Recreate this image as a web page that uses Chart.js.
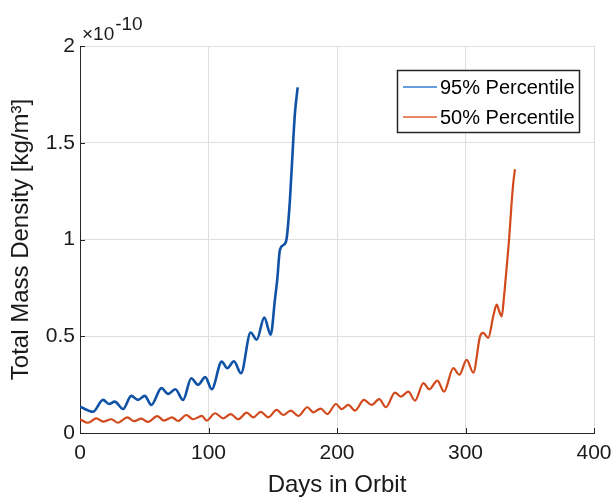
<!DOCTYPE html>
<html>
<head>
<meta charset="utf-8">
<script src="https://cdn.jsdelivr.net/npm/chart.js@4.4.1/dist/chart.umd.min.js"></script>
<style>
  html, body { margin: 0; padding: 0; background: #ffffff; }
  #wrap { width: 611px; height: 501px; }
</style>
</head>
<body>
<div id="wrap"><canvas id="c" width="611" height="501"></canvas></div>
<script>
// ---- Data (density values in units of 1e-10 kg/m^3) ----
const days95 = [0, 10.1, 17.9, 22.6, 27.0, 33.5, 39.9, 45.1, 50.4, 55.5, 63.4, 68.5, 74.2, 80.2, 86.6, 91.8, 97.5, 102.5, 110.3, 114.6, 119.8, 125.3, 132.8, 137.5, 143.4, 148.4, 151.8, 153.5, 155.6, 158.8, 160.9, 163.4, 166.0, 167.3, 169.4];
const density95 = [0.136, 0.110, 0.171, 0.150, 0.162, 0.124, 0.192, 0.171, 0.192, 0.145, 0.232, 0.202, 0.226, 0.171, 0.283, 0.249, 0.289, 0.226, 0.369, 0.335, 0.371, 0.309, 0.519, 0.482, 0.596, 0.508, 0.696, 0.793, 0.948, 0.974, 1.009, 1.207, 1.518, 1.656, 1.786];

const days50 = [0, 6.2, 12.7, 17.9, 24.4, 29.6, 36.8, 42.0, 47.7, 52.9, 60.2, 65.4, 71.6, 76.3, 82.7, 87.9, 94.9, 98.6, 105.1, 111.5, 117.3, 123.2, 129.7, 134.9, 140.6, 146.5, 153.1, 158.2, 164.0, 169.9, 176.9, 181.6, 187.3, 192.5, 199.2, 203.7, 208.8, 214.0, 221.0, 227.0, 232.9, 238.1, 245.1, 249.6, 255.5, 260.7, 267.2, 271.8, 278.1, 283.3, 290.5, 295.2, 300.9, 306.1, 311.3, 313.8, 317.7, 321.6, 324.3, 326.3, 328.2, 330.0, 332.1, 334.1, 335.9, 337.2, 338.5];
const density50 = [0.071, 0.053, 0.076, 0.059, 0.071, 0.053, 0.081, 0.061, 0.074, 0.057, 0.087, 0.064, 0.081, 0.062, 0.093, 0.071, 0.088, 0.064, 0.102, 0.076, 0.098, 0.071, 0.105, 0.081, 0.109, 0.081, 0.119, 0.093, 0.116, 0.088, 0.133, 0.107, 0.126, 0.098, 0.150, 0.123, 0.145, 0.116, 0.171, 0.145, 0.175, 0.133, 0.209, 0.188, 0.214, 0.167, 0.258, 0.226, 0.271, 0.214, 0.335, 0.301, 0.378, 0.312, 0.499, 0.517, 0.491, 0.603, 0.663, 0.628, 0.603, 0.706, 0.862, 1.017, 1.190, 1.294, 1.363];

const xTicks = [0, 100, 200, 300, 400];
const yTicks = [0, 0.5, 1, 1.5, 2];
const yTickLabels = ['0', '0.5', '1', '1.5', '2'];
const seriesLabels = ['95% Percentile', '50% Percentile'];
const xTitle = 'Days in Orbit';
const yTitle = 'Total Mass Density [kg/m\u00B3]';
const exponentBase = '\u00D710';
const exponentPower = '-10';

const FONT = '"Liberation Sans", Arial, Helvetica, sans-serif';
const lineColors = ['#0f52a6', '#d2491c'];
const legendColors = ['#2f7fd0', '#e2612f'];

function pts(xs, ys) { return xs.map((x, i) => ({ x: x, y: ys[i] })); }

const overlay = {
  id: 'overlay',
  afterDraw(chart) {
    const ctx = chart.ctx;
    const xs = chart.scales.x, ys = chart.scales.y;
    const a = chart.chartArea;
    ctx.save();
    // inward tick marks
    ctx.strokeStyle = '#262626';
    ctx.lineWidth = 1;
    ctx.beginPath();
    xTicks.forEach(v => {
      const px = Math.round(xs.getPixelForValue(v)) + 0.5;
      ctx.moveTo(px, a.bottom); ctx.lineTo(px, a.bottom - 5);
    });
    yTicks.forEach(v => {
      const py = Math.round(ys.getPixelForValue(v)) + 0.5;
      ctx.moveTo(a.left, py); ctx.lineTo(a.left + 5, py);
    });
    ctx.stroke();

    // exponent label
    ctx.fillStyle = '#1a1a1a';
    ctx.textBaseline = 'alphabetic';
    ctx.textAlign = 'left';
    ctx.font = '19px ' + FONT;
    ctx.fillText(exponentBase, a.left + 2, a.top - 6);
    const w = ctx.measureText(exponentBase).width;
    ctx.font = '19px ' + FONT;
    ctx.fillText(exponentPower, a.left + 2 + w + 1, a.top - 16);

    // legend box
    const bx = 397, by = 70, bw = 182, bh = 62;
    ctx.fillStyle = '#ffffff';
    ctx.fillRect(bx, by, bw, bh);
    ctx.strokeStyle = '#262626';
    ctx.lineWidth = 1.5;
    ctx.strokeRect(bx + 0.5, by + 0.5, bw, bh);
    const rows = [87, 117];
    ctx.font = '20px ' + FONT;
    ctx.textBaseline = 'middle';
    chart.data.datasets.forEach((ds, i) => {
      ctx.strokeStyle = legendColors[i];
      ctx.lineWidth = 1.6;
      ctx.beginPath();
      ctx.moveTo(403, rows[i]); ctx.lineTo(437, rows[i]);
      ctx.stroke();
      ctx.fillStyle = '#000000';
      ctx.fillText(ds.label, 440, rows[i] + 1);
    });
    ctx.restore();
  }
};

new Chart(document.getElementById('c'), {
  type: 'scatter',
  data: {
    datasets: [
      { label: seriesLabels[0], data: pts(days95, density95), showLine: true,
        borderColor: lineColors[0], backgroundColor: lineColors[0], borderWidth: 2.6,
        pointRadius: 0, cubicInterpolationMode: 'monotone' },
      { label: seriesLabels[1], data: pts(days50, density50), showLine: true,
        borderColor: lineColors[1], backgroundColor: lineColors[1], borderWidth: 2.2,
        pointRadius: 0, cubicInterpolationMode: 'monotone' }
    ]
  },
  options: {
    responsive: false,
    animation: false,
    devicePixelRatio: 1,
    layout: { padding: { left: 0, top: 46, right: 17, bottom: 0 } },
    plugins: { legend: { display: false }, tooltip: { enabled: false } },
    scales: {
      x: {
        type: 'linear', min: 0, max: 400,
        afterBuildTicks: s => { s.ticks = xTicks.map(v => ({ value: v })); },
        afterFit: s => { s.height = 68; s.paddingRight = 0; s.paddingLeft = 0; },
        ticks: { font: { family: FONT, size: 21 }, color: '#1a1a1a', padding: 8, maxRotation: 0,
                 callback: v => String(v) },
        grid: { color: '#dedede', lineWidth: 1, drawTicks: false },
        border: { color: '#262626', width: 1 },
        title: { display: true, text: xTitle, font: { family: FONT, size: 24 }, color: '#1a1a1a', padding: { top: 0, bottom: 1 } }
      },
      y: {
        type: 'linear', min: 0, max: 2,
        afterBuildTicks: s => { s.ticks = yTicks.map(v => ({ value: v })); },
        afterFit: s => { s.width = 80; s.paddingTop = 0; s.paddingBottom = 0; },
        ticks: { font: { family: FONT, size: 21 }, color: '#1a1a1a', padding: 5,
                 callback: v => yTickLabels[yTicks.indexOf(v)] },
        grid: { color: '#dedede', lineWidth: 1, drawTicks: false },
        border: { color: '#262626', width: 1 },
        title: { display: true, text: yTitle, font: { family: FONT, size: 24 }, color: '#1a1a1a', padding: { top: 7, bottom: 0 } }
      }
    }
  },
  plugins: [overlay]
});
</script>
</body>
</html>
